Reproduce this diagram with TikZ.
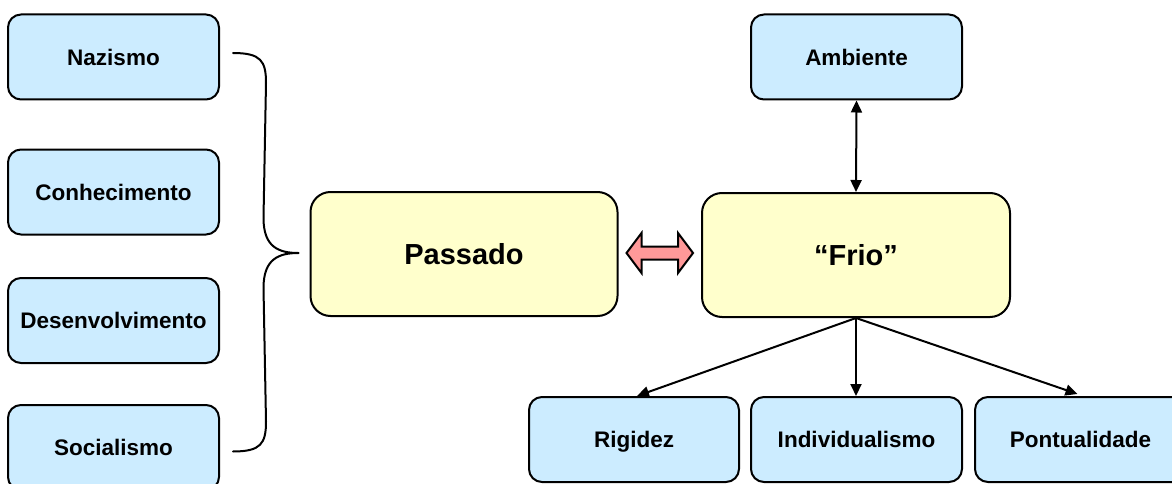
\documentclass[tikz,border=0pt]{standalone}
\usepackage{fontspec}
\setmainfont{Liberation Sans}
\usetikzlibrary{arrows.meta,calc}
\definecolor{boxblue}{HTML}{CCECFF}
\definecolor{boxyellow}{HTML}{FFFFCC}
\definecolor{arrowpink}{HTML}{FF9999}
\tikzset{
  smallbox/.style={draw=black, line width=2pt, fill=boxblue, rounded corners=13pt,
    minimum width=211pt, minimum height=85pt, inner sep=0pt,
    text height=16.1pt, text depth=0pt,
    font=\fontsize{22.5}{27}\selectfont\bfseries},
  bigbox/.style={draw=black, line width=2pt, fill=boxyellow, rounded corners=20pt,
    minimum width=307pt, minimum height=124pt, inner sep=0pt,
    text height=20.8pt, text depth=0pt,
    font=\fontsize{29}{34}\selectfont\bfseries},
  link/.style={line width=2pt, -{Triangle[length=12pt,width=11pt]}},
  biglink/.style={line width=2pt, {Triangle[length=12pt,width=11pt]}-{Triangle[length=12pt,width=11pt]}},
  bracepath/.style={line width=2pt, line cap=round, line join=round},
  fatarrow/.style={draw=black, line width=2pt, fill=arrowpink, line join=miter}
}
\begin{document}
\begin{tikzpicture}[x=1pt,y=-1pt]
\useasboundingbox (0,0) rectangle (1172,484);
\begin{scope}
\clip (0,0) rectangle (1172,484);

% left column
\node[smallbox] (naz) at (113.5,57) {Nazismo};
\node[smallbox] (con) at (113.5,192) {Conhecimento};
\node[smallbox] (des) at (113.5,320.5) {Desenvolvimento};
\node[smallbox] (soc) at (113.5,447.5) {Socialismo};

% central boxes
\node[bigbox] (pas) at (464,254) {Passado};
\node[bigbox, minimum width=308pt] (frio) at (856,255) {“Frio”};

% boxes around "Frio"
\node[smallbox] (amb) at (856.5,57) {Ambiente};
\node[smallbox, minimum width=210pt] (rig) at (634,439.5) {Rigidez};
\node[smallbox] (ind) at (856.5,439.5) {Individualismo};
\node[smallbox] (pon) at (1080.5,439.5) {Pontualidade};

% brace grouping the left column
\coordinate (btop) at ($(naz.east)+(13,-4)$);
\coordinate (bbot) at ($(soc.east)+(13,4)$);
\coordinate (btip) at ($(pas.west)+(-11,-1)$);
\draw[bracepath] (btop)
  .. controls ($(btop)+(28,0)$) and ($(btop)+(33,8)$) .. ($(btop)+(33,30)$)
  -- ($(btip)+(-35,-35)$)
  .. controls ($(btip)+(-35,-6)$) and ($(btip)+(-20,0)$) .. (btip)
  .. controls ($(btip)+(-20,0)$) and ($(btip)+(-35,6)$) .. ($(btip)+(-35,35)$)
  -- ($(bbot)+(33,-30)$)
  .. controls ($(bbot)+(33,-8)$) and ($(bbot)+(28,0)$) .. (bbot);

% fat double arrow between Passado and "Frio"
\coordinate (fl) at ($(pas.east)+(8,-1)$);
\coordinate (fr) at ($(frio.west)+(-8,-2)$);
\draw[fatarrow] (fl) -- ($(fl)+(15,-20)$) -- ($(fl)+(15,-6.5)$)
  -- ($(fr)+(-15,-6.5)$) -- ($(fr)+(-15,-20)$) -- (fr)
  -- ($(fr)+(-15,20)$) -- ($(fr)+(-15,6.5)$)
  -- ($(fl)+(15,6.5)$) -- ($(fl)+(15,20)$) -- cycle;

% connectors
\draw[biglink] (amb.south) -- (frio.north);
\draw[link] (frio.south) -- ($(rig.north)+(3,0)$);
\draw[link] (frio.south) -- (ind.north -| frio.south);
\draw[link] (frio.south) -- ($(pon.north)+(-3,-2)$);
\end{scope}
\end{tikzpicture}
\end{document}
